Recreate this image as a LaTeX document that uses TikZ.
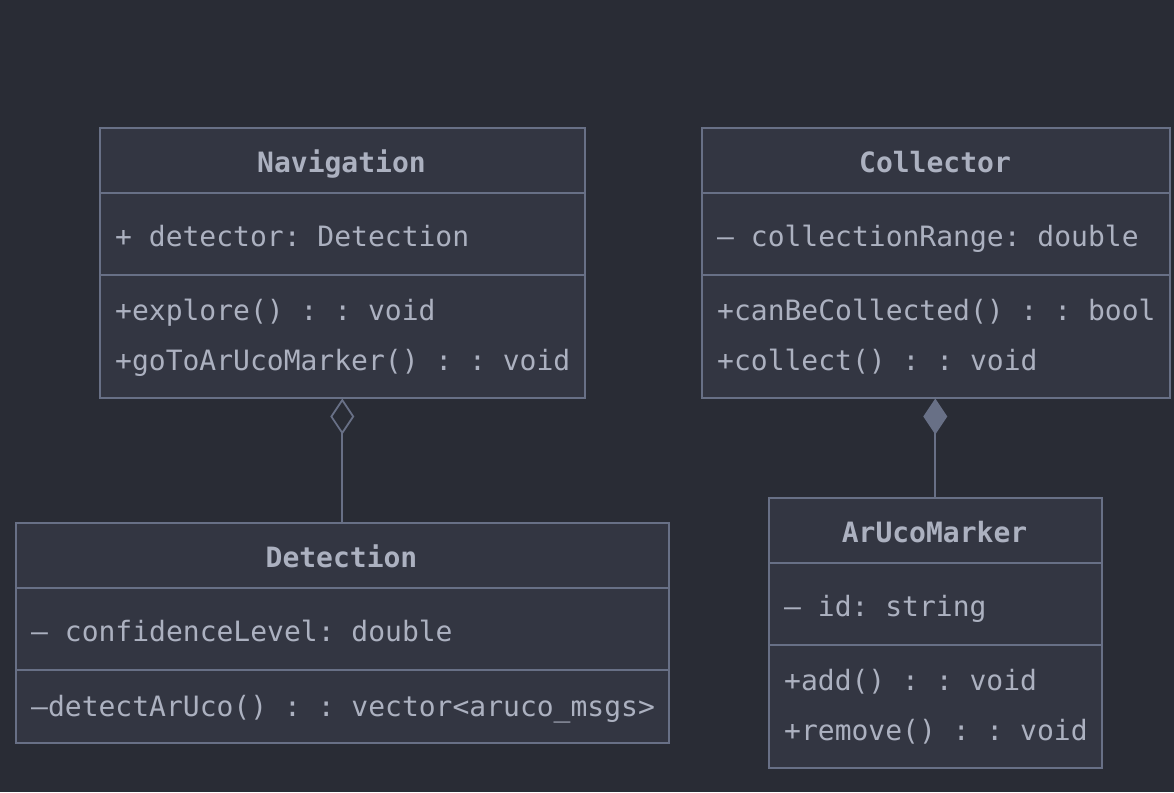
\documentclass[tikz,border=0pt]{standalone}
\usepackage{fontspec}
\setmonofont{DejaVu Sans Mono}
\usetikzlibrary{arrows.meta}
\definecolor{bg}{RGB}{41,44,53}
\definecolor{boxfill}{RGB}{51,54,66}
\definecolor{boxline}{RGB}{104,112,134}
\definecolor{txt}{RGB}{172,177,192}
\tikzset{
  umlbox/.style={draw=boxline, fill=boxfill, line width=1.5pt, anchor=north west, inner sep=0pt},
  title/.style={text=txt, font=\ttfamily\bfseries\fontsize{28}{32}\selectfont, inner sep=0pt, text height=20pt, text depth=6pt},
  member/.style={text=txt, font=\ttfamily\fontsize{28}{32}\selectfont, anchor=west, inner sep=0pt, text height=20pt, text depth=6pt},
  divider/.style={draw=boxline, line width=1.5pt},
  agg/.style={draw=boxline, line width=1.8pt, {Diamond[open, length=36pt, width=24pt, line width=1.8pt]}-},
  comp/.style={draw=boxline, line width=1.8pt, {Diamond[fill=boxline, length=36pt, width=24pt]}-},
}
\begin{document}
\begin{tikzpicture}[x=1pt, y=-1pt]
\fill[bg] (0,0) rectangle (1174,792);
\useasboundingbox (0,0) rectangle (1174,792);

% Navigation
\node[umlbox, minimum width=485pt, minimum height=270pt] (nav) at (99,127) {};
\draw[divider] (99,193) -- (584,193);
\draw[divider] (99,275) -- (584,275);
\node[title] (navt) at (341.5,165) {Navigation};
\node[member] (nava) at (115,239) {+ detector: Detection};
\node[member] (navm1) at (115,313) {+explore() : : void};
\node[member] (navm2) at (115,363) {+goToArUcoMarker() : : void};

% Collector
\node[umlbox, minimum width=468pt, minimum height=270pt] (col) at (701,127) {};
\draw[divider] (701,193) -- (1169,193);
\draw[divider] (701,275) -- (1169,275);
\node[title] (colt) at (935,165) {Collector};
\node[member] (cola) at (717,239) {– collectionRange: double};
\node[member] (colm1) at (717,313) {+canBeCollected() : : bool};
\node[member] (colm2) at (717,363) {+collect() : : void};

% Detection
\node[umlbox, minimum width=653pt, minimum height=220pt] (det) at (15,522) {};
\draw[divider] (15,588) -- (668,588);
\draw[divider] (15,670) -- (668,670);
\node[title] (dett) at (341.5,560) {Detection};
\node[member] (deta) at (31,634) {– confidenceLevel: double};
\node[member] (detm1) at (31,709) {–detectArUco() : : vector<aruco\_msgs>};

% ArUcoMarker
\node[umlbox, minimum width=333pt, minimum height=270pt] (aru) at (768,497) {};
\draw[divider] (768,563) -- (1101,563);
\draw[divider] (768,645) -- (1101,645);
\node[title] (arut) at (934.5,535) {ArUcoMarker};
\node[member] (arua) at (784,609) {– id: string};
\node[member] (arum1) at (784,683) {+add() : : void};
\node[member] (arum2) at (784,733) {+remove() : : void};

% Connectors
\draw[agg] (nav.south) -- (det.north);
\draw[comp] (col.south -| aru.north) -- (aru.north);
\end{tikzpicture}
\end{document}
